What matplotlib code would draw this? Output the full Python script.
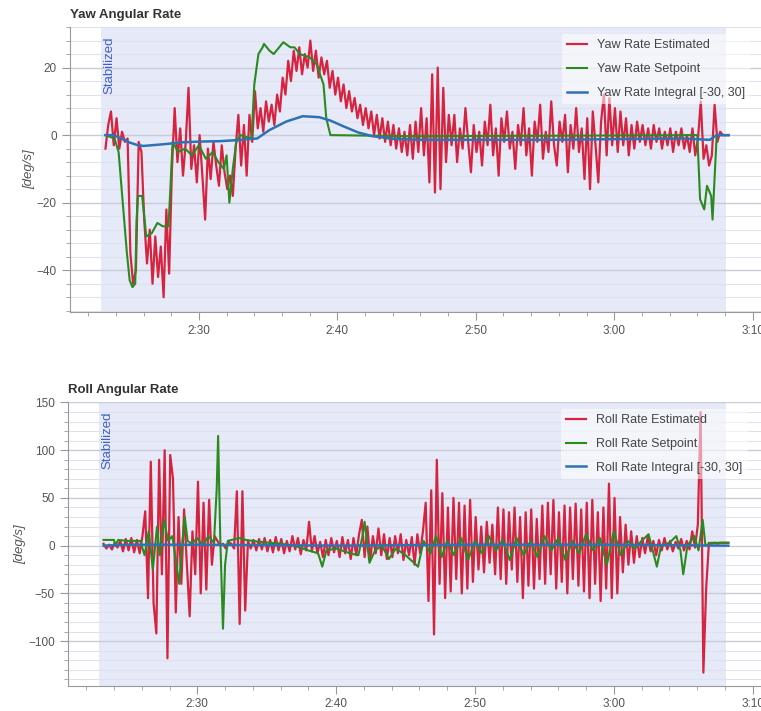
import numpy as np
import matplotlib
matplotlib.use("Agg")
import matplotlib.pyplot as plt
from matplotlib.ticker import MultipleLocator, FuncFormatter

plt.rcParams['font.family'] = ['Liberation Sans', 'DejaVu Sans']

# flight time is in seconds (2:20 -> 140 s)
MODE_START = 142.9
MODE_END = 188.1
MODE_NAME = "Stabilized"

# estimated rates are sampled every 0.2 s starting at EST_T0
EST_T0 = 143.25
EST_DT = 0.2

yaw_est = [
    -4, 3, 7, -3, 5,
    -4, 1, -2, -1, -35,
    -44, -40, -2, -5, -25,
    -38, -28, -44, -30, -42,
    -33, -48, -22, -41, -10,
    8, -8, 2, -12, -2,
    14, -10, -3, -14, 0,
    -12, -25, -4, -13, -2,
    -9, -15, -3, -11, -16,
    -12, -18, -4, 6, -9,
    3, -12, 6, -2, 13,
    2, 8, 1, 10, 4,
    9, 3, 12, 7, 17,
    12, 22, 16, 25, 19,
    26, 18, 24, 20, 28,
    19, 25, 17, 23, 18,
    22, 14, 19, 12, 17,
    10, 15, 8, 13, 7,
    11, 5, 9, 3, 8,
    2, 7, 0, 6, -1,
    5, -2, 4, -3, 3,
    -4, 2, -5, 1, -6,
    3, -7, 4, -5, 8,
    -6, 5, -14, 18, -17,
    20, -16, 14, -8, 6,
    -3, 6, -8, 2, -4,
    8, -2, -11, 3, -5,
    1, -9, 4, -3, 9,
    -6, 2, -12, 5, -2,
    7, -4, 1, -10, 3,
    -3, 8, -6, 2, -12,
    4, -2, 9, -7, 1,
    -5, 10, -3, -9, 4,
    -2, 6, -11, 3, -4,
    8, -5, 2, -13, 5,
    -16, 7, -3, -14, 4,
    12, -6, 11, -3, 8,
    -5, 7, -3, 5, -6,
    3, -4, 4, -2, 3,
    -3, 2, -4, 3, -2,
    2, -4, 1, -3, 2,
    -5, 1, -3, 2, -4,
    0, -5, 2, -6, -1,
    10, -7, -3, -9, -6,
    9, -2, 1, 0, 0,
    0,
]

yaw_sp_t = [143.25, 143.9, 144.2, 144.5, 144.8, 145.0, 145.2, 145.4, 145.5, 145.6,
            145.9, 146.2, 146.6, 147.0, 147.4, 147.8, 147.95, 148.1, 148.5, 149.0,
            149.5, 150.0, 150.5, 151.0, 151.4, 151.8, 152.0, 152.2, 152.45, 152.7,
            153.0, 153.8, 154.0, 154.3, 154.6, 154.7, 155.1, 155.4, 155.8, 156.1,
            156.6, 156.9, 157.3, 158.0, 158.5, 159.0, 159.2, 159.5, 165.0, 175.0,
            186.0, 186.2, 186.5, 186.7, 187.0, 187.1, 187.4, 188.25]
yaw_sp = [0, -1, -5, -20, -35, -43, -45, -44, -25, -18,
          -18, -30, -29, -26, -27, -27, -15, -2, -5, -4,
          -6, -3, -7, -5, -8, -10, -6, -20, -10, -2,
          0, -1, 15, 24, 26, 27, 25, 24, 26, 27.5,
          26, 26, 24, 23, 21, 15, 5, 0, -0.3, -0.2,
          0, -19, -22, -15, -18, -25, 0, 0]

yaw_int_t = [143.25, 143.8, 144.3, 145.0, 145.6, 146.0, 146.6, 147.7, 148.9, 150.2,
             151.5, 152.7, 154.2, 155.1, 156.3, 157.5, 158.7, 159.5, 160.5, 161.5,
             162.5, 164.0, 166.0, 175.0, 180.0, 185.0, 186.9, 187.4, 188.25]
yaw_int = [0, 0, -0.8, -2.2, -3, -3.2, -3, -2.6, -2.1, -1.9,
           -1.8, -1.5, -1, 1.5, 4, 5.6, 5.3, 4.3, 2.5, 0.8,
           -0.3, -1.1, -1.4, -1.4, -1.2, -1.0, -1.4, 0, 0]

roll_est = [
    2, -3, 1, -4, 3,
    -2, 5, -6, 7, -5,
    8, -7, 6, -8, 10,
    36, -55, 88, -60, -92,
    90, -30, 100, -118, 95,
    70, -70, 30, -40, 38,
    -20, -74, 15, -30, 67,
    -50, 45, -46, 48, -20,
    10, 5, 0, 2, -3,
    4, 2, -3, 57, -82,
    57, -68, 5, -3, 6,
    -5, 7, -4, 8, -6,
    6, -7, 9, -5, 7,
    -8, 5, -6, 10, -4,
    8, -9, 6, -5, 25,
    -6, 10, -8, 4, -12,
    6, -10, 8, -7, 5,
    -12, 9, -8, 6, -14,
    8, -10, 12, 27, -12,
    20, -15, 10, -8, 18,
    -10, 12, -14, 8, -12,
    10, -8, 12, -15, 6,
    -10, 9, -20, 12, -8,
    15, 45, -58, 58, -93,
    90, -40, 55, -55, 40,
    -48, 50, -35, 45, -50,
    42, -45, 48, -38, 30,
    -25, 20, -28, 25, -18,
    22, -30, 40, -35, 38,
    -40, 35, -25, 40, -38,
    30, -55, 35, -42, 38,
    -45, 28, -35, 42, -40,
    45, -30, 48, -45, 35,
    -38, 42, -50, 40, -35,
    44, -42, 38, -48, 45,
    -55, 48, -40, 35, -58,
    40, -45, 65, -55, 50,
    -50, 30, -28, 22, -20,
    15, -18, 10, -12, 8,
    -8, 10, -6, 5, -10,
    6, -5, 8, -4, 5,
    -6, 4, -3, 7, -5,
    5, -4, 15, -2, 22,
    140, -133, -45, 3, 2,
    3, 2, 3, 3, 3,
    3,
]

roll_sp_t = [143.25, 144.0, 144.1, 144.3, 145.0, 145.9, 146.2, 146.5, 146.8, 147.1,
             147.3, 147.6, 147.9, 148.2, 148.5, 148.7, 148.9, 149.1, 149.3, 149.6,
             150.0, 150.4, 150.8, 151.2, 151.4, 151.5, 151.65, 151.85, 152.0, 152.2,
             153.0, 153.5, 154.5, 156.0, 157.0, 158.0, 158.7, 159.0, 159.3, 160.0,
             161.0, 161.6, 161.9, 162.05, 162.4, 162.8, 163.3, 163.8, 164.3, 165.0,
             165.9, 166.3, 166.8, 167.2, 167.6, 168.0, 168.5, 169.0, 169.5, 170.0,
             170.5, 171.0, 171.5, 172.0, 172.5, 173.0, 173.5, 174.0, 174.5, 175.0,
             175.5, 176.0, 176.5, 177.0, 177.5, 178.0, 178.5, 179.0, 179.5, 180.0,
             180.5, 181.0, 181.5, 182.0, 182.5, 182.8, 183.1, 183.4, 184.0, 184.5,
             184.8, 185.0, 185.3, 185.8, 186.1, 186.4, 186.6, 187.0, 188.25]
roll_sp = [6, 6, 0, 6, 5, 5, -10, 15, -25, 20,
           -10, 27, 5, 10, -20, -40, 0, 30, 5, 2,
           8, 0, 10, 3, 60, 115, 10, -87, -20, 5,
           8, 6, 4, 2, 0, -5, -8, -22, -5, -3,
           -8, -10, 10, 25, -18, -5, 0, -14, -3, -10,
           -22, 5, -8, 10, -12, 5, -10, 8, -15, 5,
           -8, 10, -5, 6, -15, 8, -10, 5, -12, 10,
           -5, 8, -15, 5, -8, 12, -5, 8, -20, 15,
           -10, 5, -3, 5, 12, -5, -22, 0, 3, 10,
           -5, -30, 0, 10, -5, 27, 0, 3, 3]

roll_int_t = [143.25, 145.0, 150.0, 160.0, 170.0, 180.0, 188.25]
roll_int = [0, 1, 1, 0, 1, 1, 0]

RED = '#d6233f'
GREEN = '#2b8a1f'
BLUE = '#2e72b3'


def fmt_time(t, pos):
    return "%d:%02d" % (int(t // 60), int(round(t % 60)))


def style_axes(ax, title, major, minor):
    ax.axvspan(MODE_START, MODE_END, color='#e5e9f8', zorder=0, lw=0)
    ax.set_xlim(140.69, 190.6)
    ax.xaxis.set_major_locator(MultipleLocator(10))
    ax.xaxis.set_minor_locator(MultipleLocator(2))
    ax.xaxis.set_major_formatter(FuncFormatter(fmt_time))
    ax.yaxis.set_major_locator(MultipleLocator(major))
    ax.yaxis.set_minor_locator(MultipleLocator(minor))
    ax.grid(True, axis='y', which='major', color='#c9ccd8', lw=1.0)
    ax.grid(True, axis='y', which='minor', color='#dfe2ec', lw=0.8)
    for s in ['top', 'right']:
        ax.spines[s].set_visible(False)
    for s in ['left', 'bottom']:
        ax.spines[s].set_color('#999999')
    ax.tick_params(which='both', colors='#999999', labelcolor='#555555', labelsize=8.5)
    ax.tick_params(which='major', length=6)
    ax.tick_params(which='minor', length=3)
    ax.tick_params(axis='x', pad=3)
    ax.set_ylabel('[deg/s]', fontstyle='italic', color='#555555', fontsize=9.5,
                  labelpad=1)
    ax.text(0.0, 1.02, title, transform=ax.transAxes, fontsize=9.5,
            fontweight='bold', color='#333333', ha='left', va='bottom')
    ax.text(MODE_START + 0.2, 0.968, MODE_NAME, transform=ax.get_xaxis_transform(),
            rotation=90, ha='left', va='top', color='#3f60c8', fontsize=9.5)


fig = plt.figure(figsize=(7.61, 7.11), dpi=100)
ax1 = fig.add_axes([0.092, 0.561, 0.908, 0.401])
ax2 = fig.add_axes([0.0894, 0.0352, 0.9106, 0.3994])

t_yaw = EST_T0 + EST_DT * np.arange(len(yaw_est))
ax1.plot(t_yaw, yaw_est, color=RED, lw=1.6, label='Yaw Rate Estimated')
ax1.plot(yaw_sp_t, yaw_sp, color=GREEN, lw=1.5, label='Yaw Rate Setpoint')
ax1.plot(yaw_int_t, yaw_int, color=BLUE, lw=1.8, label='Yaw Rate Integral [-30, 30]')
ax1.set_ylim(-52.4, 32)
style_axes(ax1, 'Yaw Angular Rate', 20, 4)

t_roll = EST_T0 + EST_DT * np.arange(len(roll_est))
ax2.plot(t_roll, roll_est, color=RED, lw=1.6, label='Roll Rate Estimated')
ax2.plot(roll_sp_t, roll_sp, color=GREEN, lw=1.5, label='Roll Rate Setpoint')
ax2.plot(roll_int_t, roll_int, color=BLUE, lw=1.8, label='Roll Rate Integral [-30, 30]')
ax2.set_ylim(-147, 150.5)
style_axes(ax2, 'Roll Angular Rate', 50, 10)

for ax in (ax1, ax2):
    leg = ax.legend(loc='upper left', bbox_to_anchor=(0.712, 0.975), fontsize=9,
                    frameon=True, facecolor='white', framealpha=0.55,
                    edgecolor='none', handlelength=1.6, labelspacing=0.95,
                    borderaxespad=0)
    for txt in leg.get_texts():
        txt.set_color('#444444')

fig.savefig('out.png', dpi=100)
